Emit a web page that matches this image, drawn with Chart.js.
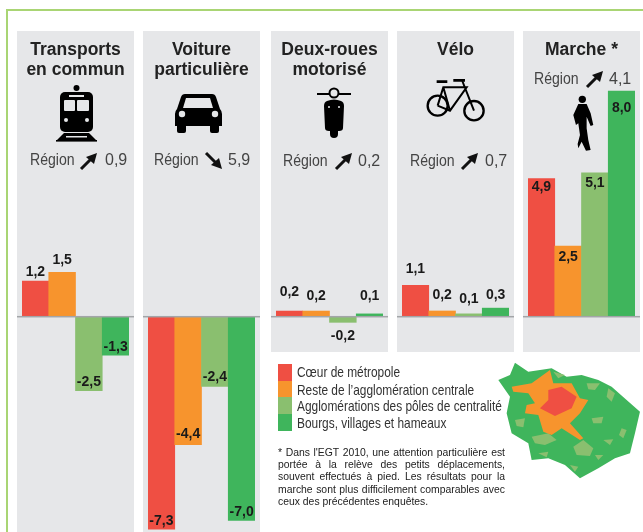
<!DOCTYPE html>
<html lang="fr">
<head>
<meta charset="utf-8">
<title>Évolution des déplacements</title>
<script src="https://cdn.jsdelivr.net/npm/chart.js@4"></script>
<style>
	html, body { margin: 0; padding: 0; background: #fff; }
	body { position: relative; width: 643px; height: 532px; overflow: hidden; font-family: "Liberation Sans", Arial, sans-serif; color: #222; }
	.abs { position: absolute; }
	.frame-top { left: 6px; top: 9px; width: 637px; height: 2px; background: #a9d574; }
	.frame-left { left: 6px; top: 9px; width: 2px; height: 523px; background: #a9d574; }
	.panel { background: #e6e7e9; width: 117px; }
	.title { width: 117px; text-align: center; font-weight: bold; font-size: 17.5px; line-height: 20px; color: #222; }
	.region { font-size: 16px; line-height: 18px; color: #444; white-space: nowrap; }
	.region-name { transform: scaleX(.88); transform-origin: left center; }
	canvas { position: absolute; top: 31px; }
	svg { position: absolute; left: 0; top: 0; }
	.swatch { left: 278px; width: 14px; height: 17px; }
	.legend-text { left: 297px; font-size: 14.5px; line-height: 17px; color: #333; white-space: nowrap; transform: scaleX(.82); transform-origin: left center; }
	.note { left: 278px; top: 447px; width: 227px; font-size: 10.4px; line-height: 12.2px; color: #222; }
	.note div { text-align: justify; text-align-last: justify; white-space: nowrap; }
	.note div:last-child { text-align-last: left; }
</style>
</head>
<body>
<div class="abs frame-top"></div>
<div class="abs frame-left"></div>
<div id="root"></div>
<svg width="643" height="532" viewBox="0 0 643 532">
	<!-- train -->
	<g fill="#000">
		<circle cx="76.5" cy="88" r="3"/>
		<rect x="60" y="92" width="33" height="40" rx="5"/>
		<rect x="64" y="100" width="11" height="11" fill="#e6e7e9" rx="1"/>
		<rect x="77" y="100" width="12" height="11" fill="#e6e7e9" rx="1"/>
		<rect x="69" y="95" width="15" height="2" fill="#e6e7e9"/>
		<circle cx="66" cy="120" r="2" fill="#e6e7e9"/>
		<circle cx="87" cy="120" r="2" fill="#e6e7e9"/>
		<path d="M64 133h25l8 8H56z"/>
		<rect x="56" y="140" width="41" height="1.6"/>
		<path d="M66 136h21v1.5H66z" fill="#e6e7e9"/>
	</g>
	<!-- car -->
	<g fill="#000">
		<path d="M185 94h27q3 0 4 3l4 12q2 2 2 5v12h-47v-12q0-3 2-5l4-12q1-3 4-3z"/>
		<rect x="177" y="124" width="9" height="9" rx="2"/>
		<rect x="210" y="124" width="9" height="9" rx="2"/>
		<path d="M186 98h24l3 10h-30z" fill="#e6e7e9"/>
		<circle cx="182" cy="114" r="3.2" fill="#e6e7e9"/>
		<circle cx="215" cy="114" r="3.2" fill="#e6e7e9"/>
	</g>
	<!-- scooter -->
	<g>
		<rect x="317" y="93" width="34" height="2" fill="#000"/>
		<circle cx="334" cy="93" r="4.5" fill="#e6e7e9" stroke="#000" stroke-width="2"/>
		<path d="M327 101q7-3 14 0q3 1 3 5l-1 22q0 3-4 3h-10q-4 0-4-3l-1-22q0-4 3-5z" fill="#000"/>
		<rect x="330" y="126" width="8" height="12" rx="4" fill="#000"/>
		<circle cx="329" cy="107" r="1" fill="#e6e7e9"/>
		<circle cx="339" cy="107" r="1" fill="#e6e7e9"/>
	</g>
	<!-- bike, walker: zoomed coordinates -->
	<g transform="translate(270 0) scale(.3333)">
		<g fill="none" stroke="#000" stroke-width="7">
			<circle cx="503" cy="317" r="30"/>
			<circle cx="612" cy="332" r="29"/>
			<path d="M503 317L520 262H590L540 332L503 317M520 262L540 332M577 243L612 332" stroke-width="6"/>
			<path d="M500 245H532M550 241H585" stroke-width="8"/>
		</g>
		<circle cx="937" cy="298" r="11" fill="#000"/>
		<path fill="#000" d="M925 312L950 312L962 340L970 375L962 378L950 350L950 385L955 420L962 450L948 452L935 425L925 445L923 432L930 405L925 370L918 375L910 345Z"/>
	</g>
	<!-- map -->
	<g transform="translate(265 340) scale(.3333)">
		<polygon fill="#3fb55c" points="750,68 790,95 860,85 905,110 950,105 1000,120 1040,140 1085,180 1125,215 1110,280 1095,340 1050,355 1000,385 945,415 900,375 850,355 800,360 790,310 740,280 725,220 735,170 700,120 735,105"/>
		<g fill="#8abf6f">
			<polygon points="925,320 955,300 985,325 975,348 935,345"/>
			<polygon points="800,290 850,280 875,300 840,315 810,310"/>
			<polygon points="750,240 780,235 775,262 755,258"/>
			<polygon points="1030,145 1050,160 1040,185 1025,170"/>
			<polygon points="980,235 1015,230 1010,250 985,250"/>
			<polygon points="1070,265 1085,270 1075,295 1062,285"/>
			<polygon points="865,95 900,105 880,115"/>
			<polygon points="965,130 1005,130 990,150 970,148"/>
			<polygon points="1015,300 1045,298 1035,315"/>
			<polygon points="915,375 940,380 930,395"/>
			<polygon points="820,340 850,335 845,352"/>
			<polygon points="990,345 1015,345 1000,360"/>
		</g>
		<polygon fill="#f7942d" points="740,140 800,130 855,90 865,130 920,130 945,175 970,180 945,220 915,250 955,295 945,300 890,265 860,285 835,275 820,225 780,220 785,195 810,190 790,160 745,155"/>
		<polygon fill="#ef4f43" points="850,150 890,140 935,170 920,205 870,228 825,205 850,180"/>
	</g>
	<!-- arrows de tendance -->
	<defs>
		<g id="arrow-up"><path d="M1 16L11 6" stroke="#111" stroke-width="3" fill="none"/><path d="M17 0L14 11L6 4z" fill="#111"/></g>
		<g id="arrow-down"><path d="M1 0L11 10" stroke="#111" stroke-width="3" fill="none"/><path d="M17 16L6 12L14 5z" fill="#111"/></g>
	</defs>
	<use href="#arrow-up" x="80" y="153"/>
	<use href="#arrow-down" x="205" y="153"/>
	<use href="#arrow-up" x="335" y="153"/>
	<use href="#arrow-up" x="461" y="153"/>
	<use href="#arrow-up" x="586" y="71"/>
</svg>
<div class="abs note">
	<div>* Dans l'EGT 2010, une attention particulière est</div>
	<div>portée à la relève des petits déplacements,</div>
	<div>souvent effectués à pied. Les résultats pour la</div>
	<div>marche sont plus difficilement comparables avec</div>
	<div>ceux des précédentes enquêtes.</div>
</div>
<script>
const territories = ['Cœur de métropole', 'Reste de l\u2019agglomération centrale', 'Agglomérations des pôles de centralité', 'Bourgs, villages et hameaux'];
const modeTitles = [['Transports', 'en commun'], ['Voiture', 'particulière'], ['Deux-roues', 'motorisé'], ['Vélo'], ['Marche *']];
const transports = [1.2, 1.5, -2.5, -1.3];
const voiture = [-7.3, -4.4, -2.4, -7.0];
const deuxRoues = [0.2, 0.2, -0.2, 0.1];
const velo = [1.1, 0.2, 0.1, 0.3];
const marche = [4.9, 2.5, 5.1, 8.0];
const regionValues = ['0,9', '5,9', '0,2', '0,7', '4,1'];

const seriesByMode = [transports, voiture, deuxRoues, velo, marche];
const colors = ['#ef4f43', '#f7942d', '#8abf6f', '#3fb55c'];

// mise en page
const panelLeft = [17, 143, 271, 397, 523];
const panelHeight = [501, 501, 321, 321, 321];
const pxPerUnit = [29.6, 29.1, 28.2, 28.6, 28.2];
const zeroFromTop = 285.7;
const canvasHeight = 501;
const regionX = [[30, 105], [154, 228], [283, 358], [410, 485], [534, 609]];
const regionY = [160, 160, 161, 161, 79];
// distance du libellé au bout de la barre, négatif = dans la barre
const labelGaps = [
	[9, 12, -9, -8],
	[-8, -11, -9.5, -8],
	[19, 15, 14, 18],
	[16, 16, 15, 13],
	[-9, -10.5, -10, -17],
];

const root = document.getElementById('root');

function addDiv(className, css, text) {
	const el = document.createElement('div');
	el.className = 'abs ' + className;
	el.style.cssText = css;
	if (text) el.textContent = text;
	root.appendChild(el);
	return el;
}

const formatValue = (v) => v.toFixed(1).replace('.', ',');

const barLabels = {
	id: 'barLabels',
	afterDatasetsDraw(chart, args, opts) {
		const ctx = chart.ctx;
		const bars = chart.getDatasetMeta(0).data;
		const values = chart.data.datasets[0].data;
		// ligne du zéro, sur toute la largeur du panneau
		const zero = chart.scales.y.getPixelForValue(0);
		ctx.save();
		ctx.fillStyle = '#a3a5a8';
		ctx.fillRect(0, zero - 0.75, chart.width, 1.5);
		ctx.font = 'bold 14px "Liberation Sans", Arial, sans-serif';
		ctx.fillStyle = '#1a1a1a';
		ctx.textAlign = 'center';
		ctx.textBaseline = 'middle';
		bars.forEach((bar, i) => {
			const dir = values[i] >= 0 ? -1 : 1;
			ctx.fillText(formatValue(values[i]), bar.x, bar.y + dir * opts.gaps[i]);
		});
		ctx.restore();
	},
};

seriesByMode.forEach((values, i) => {
	addDiv('panel', `left:${panelLeft[i]}px;top:31px;height:${panelHeight[i]}px`);

	const canvas = document.createElement('canvas');
	canvas.width = 117;
	canvas.height = canvasHeight;
	canvas.style.left = panelLeft[i] + 'px';
	root.appendChild(canvas);

	new Chart(canvas.getContext('2d'), {
		type: 'bar',
		data: {
			labels: territories,
			datasets: [{
				data: values,
				backgroundColor: colors,
				borderWidth: 0,
				barPercentage: 1,
				categoryPercentage: 1,
			}],
		},
		options: {
			responsive: false,
			animation: false,
			layout: { padding: { left: 5, right: 5, top: 0, bottom: 0 } },
			scales: {
				x: { display: false },
				y: {
					display: false,
					min: -(canvasHeight - zeroFromTop) / pxPerUnit[i],
					max: zeroFromTop / pxPerUnit[i],
				},
			},
			plugins: {
				legend: { display: false },
				tooltip: { enabled: false },
				barLabels: { gaps: labelGaps[i] },
			},
		},
		plugins: [barLabels],
	});

	modeTitles[i].forEach((line, j) => {
		addDiv('title', `left:${panelLeft[i]}px;top:${39 + j * 20}px`, line);
	});
	addDiv('region region-name', `left:${regionX[i][0]}px;top:${regionY[i] - 9}px`, 'Région');
	addDiv('region', `left:${regionX[i][1]}px;top:${regionY[i] - 9}px`, regionValues[i]);
});

// légende
const legendY = [364, 381, 397, 414];
const legendTextY = [372, 390, 406, 423];
territories.forEach((name, i) => {
	addDiv('swatch', `top:${legendY[i]}px;background:${colors[i]}`);
	addDiv('legend-text', `top:${legendTextY[i] - 8.5}px`, name);
});
</script>
</body>
</html>
